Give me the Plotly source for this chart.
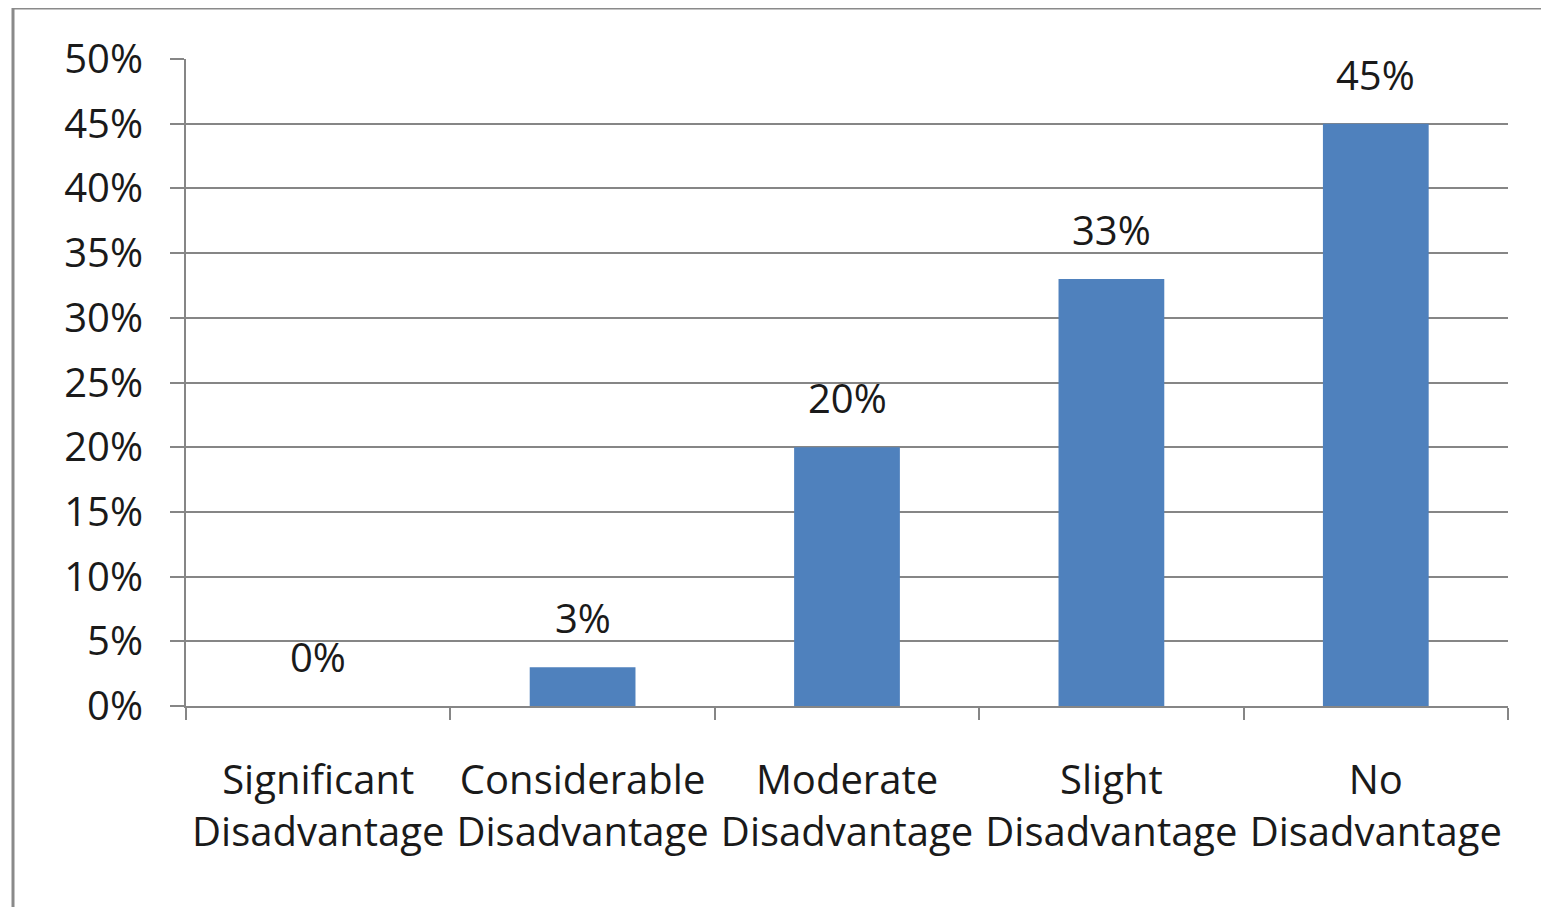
import plotly.graph_objects as go

categories = ["Significant<br>Disadvantage", "Considerable<br>Disadvantage", "Moderate<br>Disadvantage",
              "Slight<br>Disadvantage", "No<br>Disadvantage"]
values = [0.0, 0.03, 0.20, 0.33, 0.45]
labels = ["0%", "3%", "20%", "33%", "45%"]

FONT = "Open Sans"
GRAY = "#868686"
TXT = "#1a1a1a"

# page body has an 8px margin; figure sized to fit the viewport
W, H = 1541, 899
L, T = 178, 51
pw, ph = 1322, 647
R = W - L - pw
B = H - T - ph

# screen-pixel helpers (reference coordinates) -> paper coords
def px_x(p):
    return (p - 186) / pw

def px_y(p):
    return (706 - p) / ph

fig = go.Figure()
fig.add_trace(go.Bar(x=categories, y=values, marker=dict(color="#4F81BD", line=dict(width=0)),
                     width=0.4, hoverinfo="skip"))

for c, v, t in zip(categories, values, labels):
    fig.add_annotation(x=c, y=v, xref="x", yref="y", text=t, showarrow=False,
                       yanchor="bottom", yshift=20, font=dict(family=FONT, size=40, color=TXT))

# outer chart frame
fig.add_shape(type="rect", xref="paper", yref="paper",
              x0=px_x(13), x1=px_x(1700), y0=px_y(1100), y1=px_y(8),
              line=dict(color="#8a8a8a", width=3), fillcolor="rgba(0,0,0,0)", layer="above")

fig.update_layout(
    width=W, height=H,
    margin=dict(l=L, r=R, t=T, b=B),
    paper_bgcolor="white", plot_bgcolor="white",
    showlegend=False, bargap=0.6,
    font=dict(family=FONT, size=40, color=TXT),
)
fig.update_yaxes(range=[0, 0.5], dtick=0.05, tickformat=".0%",
                 showgrid=True, gridcolor=GRAY, gridwidth=2,
                 showline=True, linecolor=GRAY, linewidth=2,
                 ticks="outside", ticklen=14, tickcolor=GRAY, tickwidth=2,
                 zeroline=False, ticklabelstandoff=19,
                 tickfont=dict(family=FONT, size=40, color=TXT))
fig.update_xaxes(showline=True, linecolor=GRAY, linewidth=2,
                 ticks="outside", ticklen=12, tickcolor=GRAY, tickwidth=2,
                 tickson="boundaries", showgrid=False, ticklabelstandoff=38,
                 tickfont=dict(family=FONT, size=40, color=TXT))

fig.write_html("out.html")
